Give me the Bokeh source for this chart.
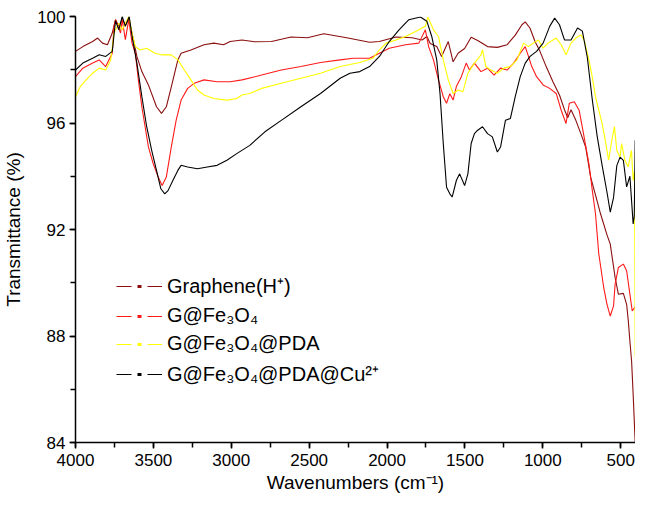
from bokeh.plotting import figure
from bokeh.models import Range1d, SingleIntervalTicker, Legend, LegendItem
from bokeh.core.properties import value
from bokeh.embed import file_html
from bokeh.resources import INLINE

# ---------------- data ----------------
series_names = ["Graphene(H\u207a)", "G@Fe\u2083O\u2084", "G@Fe\u2083O\u2084@PDA", "G@Fe\u2083O\u2084@PDA@Cu\u00b2\u207a"]
x_title = "Wavenumbers (cm\u207b\u00b9)"
y_title = "Transmittance (%)"

wn_graphene = [4000, 3953, 3890, 3858, 3827, 3795, 3764, 3743, 3722, 3700, 3680, 3658, 3637, 3606, 3574,
               3532, 3480, 3448, 3417, 3385, 3343, 3322, 3259, 3175, 3112, 3049, 3007, 2931, 2850, 2742,
               2616, 2511, 2406, 2259, 2112, 2049, 1943, 1839, 1775, 1744, 1723, 1681, 1650, 1607, 1576,
               1544, 1502, 1460, 1418, 1355, 1292, 1229, 1177, 1134, 1113, 1082, 1050, 1019, 977, 935,
               893, 861, 840, 819, 788, 756, 725, 693, 662, 630, 588, 567, 536, 515, 483, 462, 451, 441,
               430, 420, 407]
t_graphene = [98.69, 98.87, 99.06, 99.19, 99.0, 98.94, 99.38, 99.88, 99.63, 99.88, 99.69, 99.9, 99.38, 98.5, 97.93,
              97.43, 96.61, 96.36, 96.61, 97.36, 98.37, 98.62, 98.74, 98.94, 99.0, 98.94, 99.06, 99.12, 99.05, 99.06,
              99.23, 99.2, 99.35, 99.2, 99.03, 99.06, 99.23, 99.2, 99.12, 99.25, 98.99, 98.87, 98.5, 99.06, 98.3,
              98.62, 98.8, 99.22, 99.1, 98.87, 98.84, 98.94, 99.3, 99.69, 99.8, 99.56, 99.06, 98.7, 98.1, 97.55,
              97.05, 96.5, 96.2, 96.5, 96.1, 95.6, 95.1, 93.97, 93.3, 92.6, 91.8, 91.45, 90.2, 89.57, 89.6, 89.19, 88.56, 87.8,
              87.05, 85.8, 84.0]

wn_fe3o4 = [4000, 3953, 3890, 3848, 3806, 3764, 3753, 3743, 3711, 3700, 3680, 3658, 3637, 3616, 3596,
            3574, 3553, 3532, 3501, 3469, 3444, 3417, 3385, 3354, 3322, 3280, 3238, 3175, 3091, 3007,
            2931, 2805, 2679, 2553, 2427, 2301, 2217, 2112, 2049, 1986, 1881, 1796, 1754, 1733, 1702,
            1670, 1639, 1618, 1597, 1576, 1555, 1523, 1492, 1471, 1439, 1397, 1355, 1313, 1271, 1229,
            1187, 1145, 1113, 1092, 1071, 1040, 998, 956, 914, 882, 851, 830, 798, 767, 735,
            704, 683, 662, 641, 609, 588, 567, 546, 536, 515, 483, 462, 441, 426, 407]
t_fe3o4 = [97.74, 98.06, 98.25, 98.37, 98.12, 98.62, 99.63, 99.88, 99.38, 99.88, 99.13, 99.88, 99.0, 98.62, 97.6,
           96.6, 95.86, 95.1, 94.47, 93.97, 93.65, 93.97, 95.1, 96.1, 96.86, 97.3, 97.49, 97.62, 97.55, 97.55,
           97.62, 97.8, 97.99, 98.12, 98.27, 98.37, 98.43, 98.43, 98.62, 98.81, 98.94, 99.0, 99.5, 98.87, 98.37,
           97.62, 96.99, 96.74, 97.1, 96.86, 97.37, 97.74, 98.25, 97.99, 98.25, 97.93, 98.06, 97.8, 98.06, 97.99,
           98.25, 98.62, 98.87, 98.5, 98.12, 97.74, 97.43, 97.3, 97.11, 96.48, 95.98, 96.74, 96.8, 96.48, 95.48,
           94.47, 93.5, 92.6, 91.1, 89.82, 89.19, 88.75, 89.13, 89.94, 90.57, 90.7, 90.45, 89.57, 88.94, 89.1]

wn_pda = [4000, 3969, 3932, 3890, 3848, 3806, 3774, 3753, 3722, 3700, 3658, 3637, 3616, 3585, 3543,
          3490, 3448, 3385, 3343, 3301, 3259, 3217, 3175, 3112, 3028, 2965, 2931, 2881, 2805, 2679,
          2553, 2427, 2301, 2175, 2091, 2049, 2006, 1943, 1881, 1817, 1754, 1738, 1702, 1670, 1639,
          1607, 1576, 1544, 1513, 1481, 1439, 1397, 1387, 1366, 1334, 1292, 1250, 1208, 1166, 1124,
          1092, 1061, 1029, 998, 966, 935, 914, 882, 851, 819, 788, 756, 735, 704, 683,
          662, 641, 619, 599, 578, 557, 540, 525, 504, 494, 473, 452, 431, 420, 411, 407]
t_pda = [96.99, 97.37, 97.62, 97.87, 98.06, 97.99, 98.37, 99.38, 99.75, 99.5, 100.0, 99.38, 98.87, 98.74, 98.81,
         98.62, 98.56, 98.56, 98.37, 97.99, 97.62, 97.24, 97.05, 96.92, 96.86, 96.92, 97.05, 97.11, 97.3, 97.49,
         97.68, 97.87, 98.12, 98.27, 98.43, 98.75, 99.0, 99.12, 99.25, 99.44, 99.63, 99.98, 99.5, 99.25, 98.37,
         97.62, 97.11, 97.24, 97.17, 97.87, 98.25, 98.56, 98.75, 98.12, 97.99, 97.87, 98.06, 98.12, 98.37, 99.0,
         98.87, 99.0, 99.12, 98.81, 99.0, 99.12, 99.19, 98.94, 98.56, 99.0, 99.19, 99.31, 99.12, 98.37, 97.74,
         96.99, 96.48, 95.98, 95.35, 94.6, 95.35, 95.86, 94.97, 94.72, 95.23, 94.6, 94.35, 94.97, 93.84, 94.2, 87.2]

wn_cu = [4000, 3953, 3890, 3848, 3806, 3764, 3743, 3722, 3700, 3680, 3655, 3637, 3606, 3574, 3543,
         3511, 3480, 3452, 3427, 3406, 3375, 3343, 3322, 3280, 3217, 3154, 3091, 3028, 2965, 2881,
         2784, 2679, 2553, 2427, 2301, 2238, 2175, 2112, 2049, 1986, 1923, 1860, 1786, 1744, 1713,
         1681, 1660, 1639, 1618, 1597, 1582, 1555, 1534, 1502, 1481, 1460, 1439, 1418, 1387, 1355,
         1324, 1292, 1271, 1240, 1208, 1177, 1145, 1113, 1082, 1040, 998, 956, 924, 893, 861,
         819, 777, 746, 714, 683, 651, 619, 588, 567, 546, 525, 504, 483, 462, 441, 420, 413, 407]
t_cu = [97.99, 98.25, 98.43, 98.56, 98.5, 98.69, 99.84, 99.5, 100.0, 99.63, 100.0, 99.25, 98.25, 96.99, 95.86,
        94.97, 94.22, 93.53, 93.34, 93.46, 93.84, 94.22, 94.41, 94.35, 94.28, 94.35, 94.41, 94.6, 94.85, 95.16,
        95.67, 96.1, 96.61, 97.11, 97.68, 97.87, 97.93, 98.12, 98.5, 99.06, 99.5, 99.88, 99.98, 99.82, 99.25,
        98.37, 97.11, 95.23, 93.59, 93.34, 93.22, 93.84, 94.09, 93.65, 94.09, 95.23, 95.6, 95.73, 95.86, 95.6,
        95.48, 94.91, 95.1, 96.1, 96.17, 96.99, 97.74, 98.25, 98.5, 98.69, 99.0, 99.63, 99.94, 99.69, 99.12,
        99.12, 99.57, 99.45, 98.45, 96.9, 95.5, 94.4, 93.4, 92.65, 93.2, 94.4, 94.72, 94.6, 93.6, 94.0, 92.21, 92.5, 95.35]

colors = ["#8b0f0f", "#ff1a1a", "#ffff00", "#000000"]

# ---------------- figure ----------------
p = figure(width=635, height=498, x_range=Range1d(4000, 405), y_range=Range1d(84, 100),
           output_backend="svg", toolbar_location=None,
           min_border_left=73, min_border_right=0, min_border_top=16, min_border_bottom=56)
p.xgrid.visible = False
p.ygrid.visible = False
p.outline_line_color = None
p.background_fill_color = "white"

p.xaxis.ticker = SingleIntervalTicker(interval=500, num_minor_ticks=2)
p.yaxis.ticker = SingleIntervalTicker(interval=4, num_minor_ticks=2)
p.xaxis.axis_label = x_title
p.yaxis.axis_label = y_title

for ax in (p.xaxis[0], p.yaxis[0]):
    ax.axis_line_width = 1.5
    ax.axis_line_color = "black"
    ax.major_tick_line_width = 1.5
    ax.minor_tick_line_width = 1.5
    ax.major_tick_line_color = "black"
    ax.minor_tick_line_color = "black"
    ax.major_tick_in = 0
    ax.major_tick_out = 6
    ax.minor_tick_in = 0
    ax.minor_tick_out = 5
    ax.major_label_text_font = "Liberation Sans"
    ax.major_label_text_font_size = "17px"
    ax.major_label_text_color = "black"
    ax.axis_label_text_font = "Liberation Sans"
    ax.axis_label_text_font_style = "normal"
    ax.axis_label_text_font_size = "19px"
    ax.axis_label_text_color = "black"

p.xaxis.major_label_standoff = 5
p.xaxis.axis_label_standoff = 3
p.yaxis.major_label_standoff = 4
p.yaxis.axis_label_standoff = 10

series = [(wn_graphene, t_graphene), (wn_fe3o4, t_fe3o4), (wn_pda, t_pda), (wn_cu, t_cu)]
for (xs, ys), c in zip(series, colors):
    p.line(xs, ys, line_color=c, line_width=1.1)

# legend samples: dash - dot - dash (renderers hold a single NaN point, so they draw nothing in the plot)
nan = float("nan")
items = []
for name, c in zip(series_names, colors):
    r1 = p.line(x=[nan], y=[nan], line_color=c, line_width=1.2, line_dash="15 16")
    r2 = p.line(x=[nan], y=[nan], line_color=c, line_width=3, line_dash="0 21 4 21")
    items.append(LegendItem(label=value(name), renderers=[r1, r2]))

legend = Legend(items=items, location=(41, 55), glyph_width=46, glyph_height=20,
                label_height=20, spacing=5, padding=0, margin=0, label_standoff=5,
                border_line_color=None, background_fill_alpha=0,
                label_text_font="Liberation Sans", label_text_font_size="20px",
                label_text_color="black")
p.add_layout(legend)

open("out.html", "w").write(file_html(p, INLINE))
